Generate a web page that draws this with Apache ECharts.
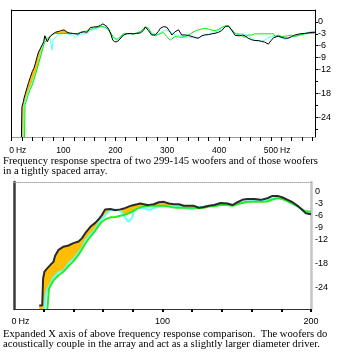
<!DOCTYPE html>
<html><head><meta charset="utf-8">
<script src="https://cdn.jsdelivr.net/npm/echarts@6/dist/echarts.min.js"></script>
<style>html,body{margin:0;padding:0;background:#fff}#c{width:338px;height:353px}</style>
</head><body><div id="c"></div>
<script>
// ---------- Top chart (0 - 585 Hz) ----------
const topFreq = [19,20,23,24,25,26,30,33,36,40, 43,46,49,52,56,59,62,64,67,69, 72,75,78,80,85,88,91,94,101,107,
  112,117,123,128,133,138,146,152,158,165, 171,176,180,184,188,192,195,199,203,207, 210,216,222,229,235,241,248,254,258,261,
  264,270,277,283,287,293,296,299,302,306, 309,315,322,328,335,341,346,351,356,360, 367,372,380,386,392,399,405,412,418,421,
  424,431,440,445,450,456,463,469,476,482, 488,495,501,505,508,514,521,527,533,540, 546,556,565,575,585];
// array of two woofers (black)
const topArray = [-29,-21.4,-20,-19.2,-18.8,-18.3,-16.5,-15.2,-14,-12.5, -11.7,-10.4,-8.9,-7.6,-6.6,-6.2,-5,-3.5,-3.6,-5,
  -4.2,-3.6,-3.2,-3,-2.6,-2.3,-2.4,-2.6,-2,-2.6, -2.8,-2.9,-3,-3.1,-2.7,-2.5,-2.6,-1.4,-1.3,-1.2,
  -0.9,-0.5,-0.8,-1.2,-2,-3.3,-4.6,-5,-5,-4.6, -4.1,-3.3,-3,-2.9,-3,-2.9,-2.8,-2.2,-1.3,-1.3,
  -2.2,-3.3,-3.3,-2.4,-1.6,-1.2,-1.2,-1.3,-1.6,-2.6, -3.3,-2.5,-2,-3.3,-3.3,-3.4,-3.6,-3.8,-4,-4.1,
  -3.5,-3.3,-3.2,-3,-2.9,-2.6,-2.2,-1.2,-1,-1.4, -2,-3.4,-3.5,-3.3,-3.5,-4.1,-4.5,-4.7,-4.7,-4.9,
  -5.1,-5.6,-4.6,-4,-3.5,-3.6,-3.9,-4.1,-4.1,-3.7, -3.3,-3,-2.9,-2.7,-2.6];
// woofer A (cyan)
const topWooferA = [null,null,-29,-21,-20.5,-20,-18.5,-17.4,-16.5,-15.2, -14,-13,-12,-10.5,-8,-6.5,-5.3,-4.7,-4.1,-4,
  -3.9,-4.5,-7.1,-4.6,-3.8,-3.5,-3.1,-2.9,-2.9,-3, -3.2,-3.3,-3.9,-3.4,-3.1,-3,-2.9,-2.2,-1.9,-1.6,
  -1.3,-1.3,-1.4,-1.6,-2.2,-3,-3.8,-4.4,-4.6,-4.3, -3.8,-3.2,-3,-3,-3.1,-2.9,-2.4,-1.8,-1.2,-1.4,
  -1.9,-2.8,-3,-3,-2.7,-2.3,-2,-2,-2.2,-2.6, -2.9,-3.2,-3.4,-3.6,-3.8,-3.8,-3.9,-4,-4.1,-4.1,
  -3.5,-3.2,-3.1,-3,-2.6,-2.2,-1.7,-1,-1,-1.6, -2.2,-2.8,-3,-3,-3.1,-3.5,-4.1,-4.6,-4.9,-4.9,
  -4.6,-4,-3.7,-3.6,-3.5,-3.6,-4,-4.4,-4.2,-3.7, -3.5,-3.3,-3,-2.5,-2.4];
// woofer B (green)
const topWooferB = [null,null,null,null,-29,-20.9,-19.3,-18,-17,-15.9, -14.7,-13.4,-12,-10.5,-8.8,-7.3,-5.8,-5.2,-4.7,-4.4,
  -4,-3.5,-3.2,-3.1,-2.9,-2.9,-2.9,-2.9,-2.9,-2.9, -2.9,-2.9,-3,-2.9,-2.6,-2.5,-2.2,-1.9,-1.6,-1.4,
  -1.2,-1.2,-1.3,-1.6,-2.3,-2.9,-3.6,-4.1,-4.4,-4, -3.5,-3,-2.9,-3,-3,-2.8,-2.5,-1.8,-1.2,-1.4,
  -1.6,-3,-3.5,-3.2,-2.9,-2.7,-3,-3.7,-4.1,-4.6, -4.4,-3.7,-3.8,-3.9,-3.7,-3.3,-2.9,-2.5,-2.2,-2,
  -1.8,-1.6,-1.8,-2.1,-2.2,-1.9,-1.4,-1,-1.1,-1.2, -1.8,-2.9,-3.3,-3.6,-3.9,-3.3,-3.3,-3,-3,-3,
  -3,-3,-3,-3,-3.7,-3.3,-3.7,-3.6,-3.5,-3.3, -3.7,-3.3,-3,-2.9,-2.8];
const topXTicks = [0,20,40,60,80,100,120,140,160,180,200,220,240,260,280,300,320,340,360,380,400,420,440,460,480,500,520,540,560,580];
const topXLabelValues = [0,100,200,300,400,500];
const topXLabels = ['0Hz','100','200','300','400','500Hz'];

// ---------- Bottom chart (0 - 200 Hz) ----------
const botFreq = [17,19,19.6,20.5,21.6,22.5,23.5,25,26.6,27.7, 30,33.3,36.7,40,43.5,45.7,48,51.4,54.7,57,
  59.3,60.4,61.5,62.6,64.9,68.2,71.6,73.9,75,77.2, 79.5,80.6,82.9,85.1,87.4,89.6,91.9,94.1,97.5,100.9,
  104.3,107.6,111,114.4,118.9,121.2,124.5,127.9,131.3,134.7, 139.2,143.7,147.1,150.5,153.8,157.2,161.7,166.2,170.7,174.1,
  177.5,180.9,184.3,187.6,191,194.4,196.6,200];
const botArray = [-28.6,-28.6,-21.8,-20.1,-19.6,-19.2,-18.8,-18.2,-17.6,-16.1, -14.6,-13.8,-13.5,-12.9,-12.5,-11.7,-10.4,-8.8,-7.8,-6.9,
  -5.8,-5,-4.4,-4.2,-4.3,-4.6,-4.4,-4.2,-4,-3.7, -3.4,-3.3,-3.1,-2.9,-3.1,-3.3,-3.2,-3.1,-2.6,-2.5,
  -2.9,-3.1,-3.1,-3.5,-3.5,-3.5,-4,-3.8,-3.5,-3.3, -2.8,-2.9,-3.3,-2.6,-2,-1.8,-1.8,-2,-1.6,-1,
  -1,-1.4,-2,-2.6,-3.5,-4.6,-5.4,-5.6];
const botWooferA = [null,null,null,-29.5,-25.5,-24.5,-23.8,-22.8,-21.5,-21, -20.2,-19.8,-18,-16.9,-15.2,-14.2,-12.2,-10.8,-9.4,-7.8,
  -6.8,-6.4,-5.8,-5.4,-4.6,-4.4,-4.8,-5.6,-6.6,-7.5, -6.6,-5,-4.1,-4,-4.1,-4.4,-4.5,-4,-3.7,-3.7,
  -3.5,-3.5,-3.6,-4,-4.3,-4.2,-4,-3.7,-3.5,-3.4, -3.3,-3.2,-3.4,-2.9,-2.6,-2.4,-2.3,-2.3,-2.1,-1.7,
  -1.4,-1.8,-2.2,-2.9,-3.7,-4.6,-5.3,-5.6];
const botWooferB = [null,null,null,null,null,-29.5,-24.5,-23.3,-22.3,-21.8, -21,-20.1,-18.7,-17.5,-15.8,-14.5,-13,-11.3,-9.8,-8.5,
  -7.5,-7.2,-6.9,-6.6,-6.4,-6.3,-6,-5.8,-5.7,-5.4, -5,-4.6,-4.2,-3.9,-3.7,-3.6,-3.5,-3.5,-3.5,-3.5,
  -3.7,-3.9,-4,-4,-4,-4,-4.1,-4,-3.7,-3.6, -3.3,-3.3,-3.5,-3.1,-2.8,-2.5,-2.5,-2.5,-2.4,-1.9,
  -1.6,-1.8,-2.4,-3,-3.6,-4.5,-4.9,-5];
const botXTicks = [20,40,60,80,100,120,140,160,180,200];
const botXLabelValues = [0,100,200];
const botXLabels = ['0Hz','100','200'];

// ---------- shared dB axis ----------
const dbTicks = [0,-3,-6,-9,-12,-15,-18,-21,-24,-27];
const dbLabels = [0,-3,-6,-9,-12,-18,-24];

const captionTop = ['Frequency response spectra of two 299-145 woofers and of those woofers', 'in a tightly spaced array.'];
const captionBottom = ['Expanded X axis of above frequency response comparison.  The woofers do', 'acoustically couple in the array and act as a slightly larger diameter driver.'];

// ---------- helpers ----------
const SANS = '"Liberation Sans", Arial, sans-serif';
const SERIF = '"Liberation Serif", "Times New Roman", serif';
const mctx = document.createElement('canvas').getContext('2d');
function textW(t, size, fam) { mctx.font = size + 'px ' + fam; return mctx.measureText(t).width; }

function pairs(fs, vs) { return fs.map((f, i) => [f, vs[i] == null ? '-' : vs[i]]); }

function hzLabel(values, texts, size) {
  const w = textW('Hz', size, SANS) + 2;
  return {
    customValues: values,
    fontSize: size, fontFamily: SANS, color: '#000',
    formatter: function (v) {
      const i = values.indexOf(v);
      if (i < 0) return '';
      const t = texts[i];
      if (t.endsWith('Hz')) return '{s|}' + t.slice(0, -2) + '{u|Hz}';
      return t;
    },
    rich: { s: { width: w, fontSize: size }, u: { padding: [0, 0, 0, 2], fontSize: size, fontFamily: SANS, color: '#000' } }
  };
}

function band(fs, arr, a, b, cutoff, floor, xi, yi) {
  return {
    type: 'custom', xAxisIndex: xi, yAxisIndex: yi, z: 1, silent: true,
    data: [[fs[0], arr[0]]],
    renderItem: function (params, api) {
      const up = [], dn = [];
      for (let i = 0; i < fs.length; i++) {
        if (fs[i] > cutoff || arr[i] == null) continue;
        let u = floor;
        if (a[i] != null) u = Math.max(u, a[i]);
        if (b[i] != null) u = Math.max(u, b[i]);
        u = Math.min(u, arr[i]);
        up.push(api.coord([fs[i], arr[i]]));
        dn.unshift(api.coord([fs[i], u]));
      }
      return { type: 'polygon', shape: { points: up.concat(dn) }, style: { fill: '#ffbf00' } };
    }
  };
}

function line(fs, vs, color, width, xi, yi, z) {
  return {
    type: 'line', xAxisIndex: xi, yAxisIndex: yi, z: z, data: pairs(fs, vs),
    showSymbol: false, symbol: 'none', silent: true, connectNulls: false,
    lineStyle: { color: color, width: width }
  };
}

const TOP_MIN = -29, TOP_MAX = 3, BOT_MIN = -29.5, BOT_MAX = 2.5;

const chart = echarts.init(document.getElementById('c'), null, { renderer: 'canvas' });
const topCapSize = 315 / textW(captionTop[0], 100, SERIF) * 100;
const botCapSize = 325 / textW(captionBottom[0], 100, SERIF) * 100;

chart.setOption({
  animation: false,
  backgroundColor: '#fff',
  grid: [
    { left: 11, top: 10, width: 304, height: 127, containLabel: false },
    { left: 14, top: 182, width: 297, height: 127, containLabel: false }
  ],
  xAxis: [
    { gridIndex: 0, type: 'value', position: 'bottom', min: 0, max: 585,
      axisLine: { show: true, onZero: false, lineStyle: { color: '#8a8a8a', type: 'dotted', width: 1 } },
      axisTick: { show: true, customValues: topXTicks, length: 4, lineStyle: { color: '#000', width: 1 } },
      axisLabel: Object.assign({ margin: 9 }, hzLabel(topXLabelValues, topXLabels, 8.5)),
      splitLine: { show: false } },
    { gridIndex: 0, type: 'value', position: 'top', min: 0, max: 585,
      axisLine: { show: true, onZero: false, lineStyle: { color: '#000', width: 1 } },
      axisTick: { show: false }, axisLabel: { show: false }, splitLine: { show: false } },
    { gridIndex: 1, type: 'value', position: 'bottom', min: 0, max: 200,
      axisLine: { show: true, onZero: false, lineStyle: { color: '#333', width: 1 } },
      axisTick: { show: true, customValues: botXTicks, length: 3, lineStyle: { color: '#000', width: 2 } },
      axisLabel: Object.assign({ margin: 8 }, hzLabel(botXLabelValues, botXLabels, 9)),
      splitLine: { show: false } },
    { gridIndex: 1, type: 'value', position: 'top', min: 0, max: 200,
      axisLine: { show: true, onZero: false, lineStyle: { color: '#aaa', type: 'dotted', width: 1 } },
      axisTick: { show: false }, axisLabel: { show: false }, splitLine: { show: false } }
  ],
  yAxis: [
    { gridIndex: 0, type: 'value', position: 'right', min: TOP_MIN, max: TOP_MAX,
      axisLine: { show: true, onZero: false, lineStyle: { color: '#000', width: 1 } },
      axisTick: { show: true, customValues: dbTicks, length: 3, lineStyle: { color: '#000' } },
      axisLabel: { customValues: dbLabels, margin: 3, fontSize: 9, fontFamily: SANS, color: '#000' },
      splitLine: { show: false } },
    { gridIndex: 0, type: 'value', position: 'left', min: TOP_MIN, max: TOP_MAX,
      axisLine: { show: true, onZero: false, lineStyle: { color: '#000', width: 1 } },
      axisTick: { show: false }, axisLabel: { show: false }, splitLine: { show: false } },
    { gridIndex: 1, type: 'value', position: 'right', min: BOT_MIN, max: BOT_MAX,
      axisLine: { show: true, onZero: false, lineStyle: { color: '#c4c4c4', width: 2.5 } },
      axisTick: { show: false },
      axisLabel: { customValues: dbLabels, margin: 4, fontSize: 9, fontFamily: SANS, color: '#000' },
      splitLine: { show: false } },
    { gridIndex: 1, type: 'value', position: 'left', min: BOT_MIN, max: BOT_MAX,
      axisLine: { show: true, onZero: false, lineStyle: { color: '#3a3a3a', width: 2.5 } },
      axisTick: { show: false }, axisLabel: { show: false }, splitLine: { show: false } }
  ],
  series: [
    band(topFreq, topArray, topWooferA, topWooferB, 112, TOP_MIN, 0, 0),
    line(topFreq, topWooferA, '#55ffff', 1, 0, 0, 3),
    line(topFreq, topWooferB, '#00ee00', 1, 0, 0, 4),
    line(topFreq, topArray, '#000000', 1, 0, 0, 5),
    band(botFreq, botArray, botWooferA, botWooferB, 125, BOT_MIN, 2, 2),
    line(botFreq, botWooferA, '#66ffff', 2, 2, 2, 3),
    line(botFreq, botWooferB, '#22ee22', 2, 2, 2, 4),
    line(botFreq, botArray, '#2a2a2a', 2, 2, 2, 5)
  ],
  graphic: [
    { type: 'text', x: 3, y: 161.5, silent: true, style: { text: captionTop[0], fontSize: topCapSize, fontFamily: SERIF, fill: '#000', verticalAlign: 'middle' } },
    { type: 'text', x: 3, y: 171.5, silent: true, style: { text: captionTop[1], fontSize: topCapSize, fontFamily: SERIF, fill: '#000', verticalAlign: 'middle' } },
    { type: 'text', x: 3, y: 333.8, silent: true, style: { text: captionBottom[0], fontSize: botCapSize, fontFamily: SERIF, fill: '#000', verticalAlign: 'middle' } },
    { type: 'text', x: 3, y: 343.8, silent: true, style: { text: captionBottom[1], fontSize: botCapSize, fontFamily: SERIF, fill: '#000', verticalAlign: 'middle' } }
  ]
});
</script></body></html>
